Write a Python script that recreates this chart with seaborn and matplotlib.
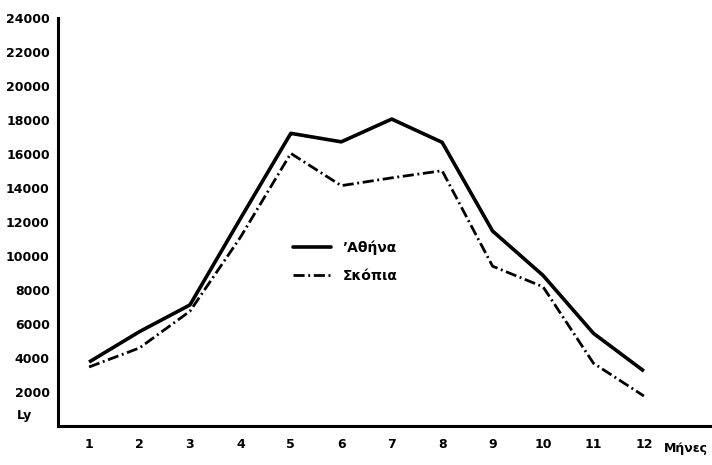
import pandas as pd
import seaborn as sns
from matplotlib import pyplot as plt
from matplotlib.lines import Line2D

# monthly values (Ly)
months = [1, 2, 3, 4, 5, 6, 7, 8, 9, 10, 11, 12]
athens = [3760, 5550, 7120, 12200, 17220, 16720, 18060, 16690, 11470, 8860, 5450, 3230]
skopje = [3470, 4590, 6750, 11100, 16040, 14140, 14600, 15020, 9400, 8190, 3690, 1760]
cities = ["\u2019\u0391\u03b8\u03ae\u03bd\u03b1", "\u03a3\u03ba\u03cc\u03c0\u03b9\u03b1"]
y_ticks = [2000, 4000, 6000, 8000, 10000, 12000, 14000, 16000, 18000, 20000, 22000, 24000]

df = pd.DataFrame({
    "month": months * 2,
    "value": athens + skopje,
    "city": [cities[0]] * 12 + [cities[1]] * 12,
})

sns.set_style("white")
plt.rcParams['font.family'] = ['DejaVu Sans']
plt.rcParams['font.weight'] = 'bold'
plt.rcParams['text.color'] = 'black'
plt.rcParams['xtick.color'] = 'black'
plt.rcParams['ytick.color'] = 'black'

fig = plt.figure(figsize=(7.12, 4.65), dpi=100)
ax = fig.add_axes([0.0815, 0.084, 0.9185, 0.877])

sns.lineplot(data=df, x="month", y="value", hue="city", style="city",
             palette=["black", "black"], dashes=[(1, 0), (4, 1.3, 0.7, 1.3)],
             size="city", sizes=[2.6, 2.0], ax=ax, legend=False)

ax.set_xlim(0.385, 13.35)
ax.set_ylim(0, 24000)
ax.set_xticks(months)
ax.set_xticklabels([str(m) for m in months], fontsize=9, fontweight='bold', color='black')
ax.set_yticks(y_ticks)
ax.set_yticklabels([str(v) for v in y_ticks], fontsize=9, fontweight='bold', color='black')
ax.tick_params(axis='both', direction='in', length=6, width=1.6, color='black')
ax.tick_params(axis='x', pad=9)
ax.tick_params(axis='y', pad=6)
ax.set_xlabel("")
ax.set_ylabel("")
for s in ["top", "right"]:
    ax.spines[s].set_visible(False)
for s in ["left", "bottom"]:
    ax.spines[s].set_linewidth(2.2)
    ax.spines[s].set_color("black")

fig.text(24 / 712, 1 - 415 / 465, "Ly", fontsize=9, fontweight='bold', ha='center', va='center')
fig.text(686 / 712, 1 - 448 / 465, "\u039c\u03ae\u03bd\u03b5\u03c2", fontsize=9, fontweight='bold',
         ha='center', va='center')

# legend with the two line styles
handles = [Line2D([], [], color="black", lw=2.6),
           Line2D([], [], color="black", lw=2.0, dashes=(4, 1.3, 0.7, 1.3))]
leg = ax.legend(handles, cities, loc="center left", bbox_to_anchor=(280 / 712, 1 - 262 / 465),
                bbox_transform=fig.transFigure, frameon=False, handlelength=2.8,
                labelspacing=1.0, prop={'size': 10, 'weight': 'bold'})
for t in leg.get_texts():
    t.set_color('black')

fig.savefig("out.png", dpi=100)
